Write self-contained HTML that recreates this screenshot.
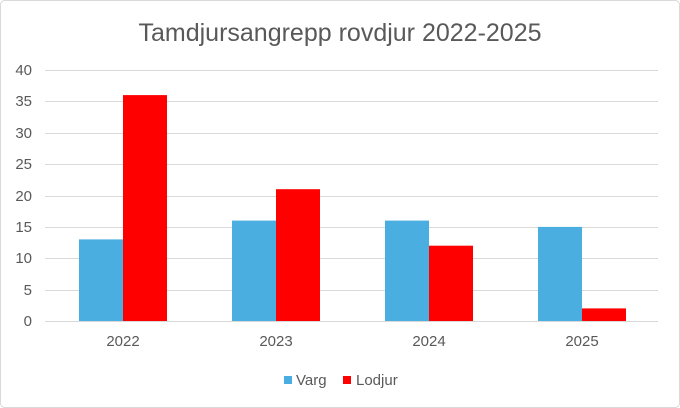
<!DOCTYPE html>
<html><head><meta charset="utf-8"><style>
html,body{margin:0;padding:0;background:#fff}
svg{display:block}
text{font-family:"Liberation Sans",sans-serif;fill:#595959}
</style></head><body>
<svg width="680" height="408" viewBox="0 0 680 408">
<rect x="0.5" y="0.5" width="679" height="407" rx="4" fill="#fff" stroke="#d9d9d9"/>
<text x="340" y="41" font-size="25" text-anchor="middle">Tamdjursangrepp rovdjur 2022-2025</text>
<g stroke="#d9d9d9" stroke-width="1">
<line x1="45" x2="658" y1="70.5" y2="70.5"/>
<line x1="45" x2="658" y1="101.5" y2="101.5"/>
<line x1="45" x2="658" y1="133.5" y2="133.5"/>
<line x1="45" x2="658" y1="164.5" y2="164.5"/>
<line x1="45" x2="658" y1="196.5" y2="196.5"/>
<line x1="45" x2="658" y1="227.5" y2="227.5"/>
<line x1="45" x2="658" y1="258.5" y2="258.5"/>
<line x1="45" x2="658" y1="290.5" y2="290.5"/>
<line x1="45" x2="658" y1="321.5" y2="321.5"/>
</g>
<g font-size="15" text-anchor="end">
<text x="32" y="75">40</text><text x="32" y="106">35</text><text x="32" y="138">30</text>
<text x="32" y="169">25</text><text x="32" y="201">20</text><text x="32" y="232">15</text>
<text x="32" y="263">10</text><text x="32" y="295">5</text><text x="32" y="326">0</text>
</g>
<g fill="#4aaee0">
<rect x="79" y="239.4" width="44" height="81.6"/>
<rect x="232" y="220.6" width="44" height="100.4"/>
<rect x="385" y="220.6" width="44" height="100.4"/>
<rect x="538" y="226.9" width="44" height="94.1"/>
</g>
<g fill="#ff0000">
<rect x="123" y="95.1" width="44" height="225.9"/>
<rect x="276" y="189.2" width="44" height="131.8"/>
<rect x="429" y="245.7" width="44" height="75.3"/>
<rect x="582" y="308.4" width="44" height="12.6"/>
</g>
<g font-size="15" text-anchor="middle">
<text x="123" y="346">2022</text><text x="276" y="346">2023</text>
<text x="429" y="346">2024</text><text x="582" y="346">2025</text>
</g>
<rect x="284" y="376" width="8" height="8" fill="#4aaee0"/>
<text x="296" y="385" font-size="15">Varg</text>
<rect x="343" y="376" width="8" height="8" fill="#ff0000"/>
<text x="356" y="385" font-size="15">Lodjur</text>
</svg>
</body></html>
